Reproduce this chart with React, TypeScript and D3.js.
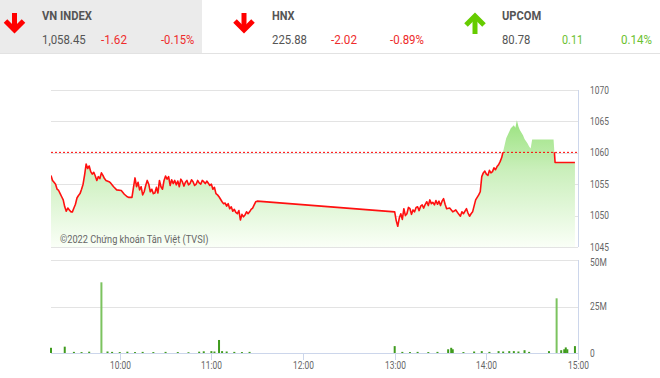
import React from "react";
import * as d3 from "d3";

// ---------- data ----------
const indexNames = ["VN INDEX", "HNX", "UPCOM"];
const indexValues = ["1,058.45", "225.88", "80.78"];
const indexChanges = ["-1.62", "-2.02", "0.11"];
const indexPercents = ["-0.15%", "-0.89%", "0.14%"];
const indexUp = [false, false, true];

const refPrice = 1060.07;

const priceTimes = [
  "9:15","9:16","9:17","9:18","9:19","9:20","9:21","9:22","9:23","9:24","9:25","9:26","9:27","9:28","9:29","9:30","9:31","9:32","9:33","9:34",
  "9:35","9:36","9:37","9:38","9:39","9:40","9:41","9:42","9:43","9:44","9:45","9:46","9:47","9:48","9:49","9:50","9:51","9:53","9:54","9:56","9:58",
  "10:01","10:03","10:05","10:06","10:08","10:09","10:10","10:11","10:12","10:13","10:14","10:15","10:16","10:17","10:18","10:19","10:20",
  "10:21","10:22","10:23","10:24","10:25","10:26","10:27","10:28","10:29","10:30","10:31","10:32","10:33","10:34","10:35","10:36","10:37",
  "10:38","10:39","10:40","10:41","10:42","10:43","10:44","10:45","10:46","10:47","10:48","10:49","10:50","10:51","10:52","10:53","10:54",
  "10:55","10:56","10:57","10:59","11:00","11:01","11:02","11:03","11:04","11:05","11:06","11:07","11:08","11:09","11:10","11:11","11:12",
  "11:13","11:14","11:15","11:16","11:17","11:18","11:19","11:20","11:21","11:22","11:23","11:24","11:25","11:26","11:27","11:28","11:29","11:30",
  "13:00","13:01","13:02","13:03","13:04","13:05","13:06","13:07","13:08","13:09","13:10","13:11","13:12","13:13","13:14","13:15","13:16","13:17","13:18","13:19",
  "13:20","13:21","13:22","13:23","13:24","13:25","13:26","13:27","13:28","13:29","13:30","13:31","13:32","13:33","13:34","13:36","13:38",
  "13:40","13:42","13:43","13:44","13:45","13:47","13:48","13:49","13:50","13:51","13:53","13:55","13:56","13:57","13:58","13:59",
  "14:00","14:01","14:02","14:03","14:04","14:05","14:06","14:07","14:08","14:09","14:10","14:11","14:13","14:16","14:18","14:19","14:20",
  "14:21","14:22","14:24","14:25","14:27","14:28","14:29","14:30","14:44","14:45","14:58"
];
const priceValues = [
  1056.4,1055.6,1055.3,1055.0,1054.2,1054.0,1053.5,1053.0,1052.5,1051.4,1050.7,1051.2,1050.9,1050.6,1050.6,1051.2,1051.8,1052.8,1053.2,1053.5,
  1054.2,1055.0,1056.5,1058.2,1057.5,1057.9,1057.0,1056.6,1056.9,1056.3,1055.6,1056.2,1055.9,1056.8,1056.4,1055.9,1055.6,1055.4,1055.2,1054.6,1054.1,
  1054.0,1053.4,1053.0,1052.9,1052.9,1054.5,1056.0,1054.6,1055.3,1054.1,1054.6,1053.3,1053.8,1054.8,1055.6,1055.0,1053.8,
  1054.2,1053.5,1053.6,1054.5,1053.6,1055.6,1054.6,1054.2,1055.6,1056.3,1055.8,1056.2,1054.8,1055.7,1055.1,1055.6,1054.9,
  1055.5,1054.6,1055.8,1055.4,1054.7,1055.3,1055.6,1054.9,1055.1,1055.7,1055.4,1054.8,1055.0,1055.6,1055.2,1055.0,1055.6,
  1055.4,1055.1,1055.5,1054.8,1055.0,1054.2,1054.5,1053.5,1053.3,1053.0,1052.6,1052.2,1051.9,1052.0,1051.5,1051.9,1051.1,
  1051.4,1050.7,1051.0,1050.5,1050.3,1050.8,1049.3,1050.2,1049.8,1050.1,1050.6,1050.3,1050.6,1051.0,1051.2,1051.7,1052.2,1052.3,
  1050.6,1049.2,1048.3,1049.6,1050.3,1049.4,1051.1,1050.0,1050.3,1051.3,1051.1,1050.2,1050.9,1050.6,1051.3,1051.4,1050.8,1051.5,1051.7,1051.2,
  1051.8,1052.2,1051.6,1052.5,1051.9,1052.1,1051.7,1052.4,1051.8,1052.3,1051.6,1052.3,1052.7,1051.8,1051.1,1051.2,1050.6,
  1050.9,1050.2,1049.9,1050.6,1050.3,1051.1,1050.4,1049.9,1050.3,1050.6,1052.5,1053.3,1053.8,1056.2,1056.8,1057.1,
  1056.6,1056.4,1057.2,1056.8,1057.0,1057.6,1057.3,1057.8,1058.1,1058.6,1059.2,1060.2,1062.3,1063.9,1064.4,1064.0,1065.2,
  1064.2,1063.6,1062.8,1062.2,1061.5,1061.0,1060.7,1062.1,1062.1,1058.45,1058.45
];

const volumeTimes = [
  "9:15","9:24","9:30","9:35","9:40","9:48","9:52","9:55","10:00","10:05","10:10","10:15","10:22","10:30","10:38","10:45","10:52","10:55",
  "11:00","11:02","11:05","11:07","11:10","11:15","11:20","11:25",
  "13:00","13:05","13:10","13:15","13:22","13:28","13:35","13:37","13:38","13:45","13:52","13:57","14:02","14:08","14:11","14:15","14:18",
  "14:21","14:25","14:28","14:41","14:46","14:49","14:51","14:52","14:53","14:58"
];
const volumeValues = [
  2.8,3.4,0.6,0.5,0.7,38,0.8,0.6,0.5,0.7,0.5,0.6,0.5,0.6,0.5,0.4,0.7,0.9,
  1.0,0.8,7.0,1.0,0.8,0.6,0.5,0.6,
  3.7,0.6,0.5,0.6,0.5,0.6,2.0,2.8,2.0,0.5,0.8,1.0,0.6,1.0,0.8,1.0,1.0,
  0.8,1.5,0.6,1.0,29.4,1.5,2.0,3.0,2.0,3.7
];

const priceTicks = [1045, 1050, 1055, 1060, 1065, 1070];
const volumeTicks = [0, 25, 50];
const volumeTickLabels = ["0", "25M", "50M"];
const hourTicks = ["10:00", "11:00", "12:00", "13:00", "14:00", "15:00"];
const watermark = "©2022 Chứng khoán Tân Việt (TVSI)";

// ---------- helpers ----------
const toMin = (s: string) => {
  const [h, m] = s.split(":").map(Number);
  return h * 60 + m;
};

const W = 660;
const H = 378;
const FONT = "Roboto, 'Noto Sans', sans-serif";
const SX = 0.84; // condensed look

const x = d3.scaleLinear().domain([toMin("9:15"), toMin("15:00")]).range([51, 578]);
const yP = d3.scaleLinear().domain([1045, 1070]).range([247, 90]);
const yV = d3.scaleLinear().domain([0, 50]).range([353, 260]);

const RED = "#ee2b2b";
const GREEN = "#6cc12f";

function CText(props: { x: number; y: number; size: number; fill: string; weight?: number; anchor?: string; children: string }) {
  const { x: tx, y: ty, size, fill, weight, anchor, children } = props;
  return (
    <text
      transform={`translate(${tx},${ty}) scale(${SX},1)`}
      fontSize={size}
      fill={fill}
      fontWeight={weight || 400}
      textAnchor={anchor || "start"}
      fontFamily={FONT}
    >
      {children}
    </text>
  );
}

function Arrow({ cx, up, color }: { cx: number; up: boolean; color: string }) {
  const top = 14;
  const bot = 32;
  if (!up) {
    return (
      <g stroke={color} strokeWidth={5} fill="none" strokeLinejoin="miter">
        <line x1={cx} y1={top - 1} x2={cx} y2={bot - 2} />
        <polyline points={`${cx - 9},${bot - 11} ${cx},${bot - 2} ${cx + 9},${bot - 11}`} />
      </g>
    );
  }
  return (
    <g stroke={color} strokeWidth={5} fill="none" strokeLinejoin="miter">
      <line x1={cx} y1={top + 2} x2={cx} y2={bot + 2} />
      <polyline points={`${cx - 9},${top + 11} ${cx},${top + 2} ${cx + 9},${top + 11}`} />
    </g>
  );
}

export default function App() {
  const pts = priceTimes.map((t, i) => ({ t: toMin(t), v: priceValues[i] }));
  const area = d3
    .area<{ t: number; v: number }>()
    .x((d) => x(d.t))
    .y0(yP(1045))
    .y1((d) => yP(d.v));
  const line = d3
    .line<{ t: number; v: number }>()
    .x((d) => x(d.t))
    .y((d) => yP(d.v));
  const refY = yP(refPrice);

  const headerX = [42, 272, 502];
  const changeX = [101, 331, 562];
  const pctX = [161, 390, 621];
  const arrowX = [14.5, 244, 475];
  const nameW = [50, 22.6, 39.3];
  const valW = [43.7, 35, 28.3];
  const chgW = [26, 26, 21];
  const pctW = [33.3, 34, 31];

  return (
    <svg
      width={W}
      height={H}
      style={{ position: "fixed", left: 0, top: 0, background: "#fff" }}
      fontFamily={FONT}
    >
      <defs>
        <linearGradient id="pfill" gradientUnits="userSpaceOnUse" x1={0} y1={118} x2={0} y2={247}>
          <stop offset="0" stopColor="#98e27c" />
          <stop offset="0.4" stopColor="#caefbb" />
          <stop offset="1" stopColor="#fafff7" />
        </linearGradient>
        <clipPath id="belowRef">
          <rect x={51} y={refY} width={527} height={247 - refY + 3} />
        </clipPath>
      </defs>

      {/* header */}
      <rect x={0} y={0} width={202} height={53} fill="#ebebeb" />
      <line x1={0} x2={W} y1={53.5} y2={53.5} stroke="#e2e2e2" />
      {indexNames.map((n, i) => {
        const c = indexUp[i] ? GREEN : RED;
        return (
          <g key={n}>
            <Arrow cx={arrowX[i]} up={indexUp[i]} color={indexUp[i] ? "#66cc00" : "#ff0000"} />
            <text x={headerX[i]} y={20} fontSize={13} fontWeight={700} fill="#555"
              textLength={nameW[i]} lengthAdjust="spacingAndGlyphs">{n}</text>
            <text x={headerX[i]} y={44} fontSize={13.5} fill="#555"
              textLength={valW[i]} lengthAdjust="spacingAndGlyphs">{indexValues[i]}</text>
            <text x={changeX[i]} y={44} fontSize={13.5} fill={c}
              textLength={chgW[i]} lengthAdjust="spacingAndGlyphs">{indexChanges[i]}</text>
            <text x={pctX[i]} y={44} fontSize={13.5} fill={c}
              textLength={pctW[i]} lengthAdjust="spacingAndGlyphs">{indexPercents[i]}</text>
          </g>
        );
      })}

      {/* price chart grid */}
      {priceTicks.map((t) => (
        <g key={t}>
          <line x1={51} x2={578} y1={Math.round(yP(t)) + 0.5} y2={Math.round(yP(t)) + 0.5} stroke="#e3e3e3" />
          <CText x={590} y={yP(t) + 3.5} size={10} fill="#666">{String(t)}</CText>
        </g>
      ))}
      <line x1={578.5} x2={578.5} y1={90} y2={247} stroke="#ccd6eb" />

      {/* price area + line */}
      <path d={area(pts) || ""} fill="url(#pfill)" />
      <CText x={60} y={242.5} size={11} fill="#666">{watermark}</CText>
      <path d={line(pts) || ""} fill="none" stroke="#ff1010" strokeWidth={1.6} strokeLinejoin="round" clipPath="url(#belowRef)" />
      <line x1={51} x2={578} y1={refY} y2={refY} stroke="#ff0000" strokeWidth={1} strokeDasharray="2,2" />

      {/* volume chart */}
      {volumeTicks.map((t, i) => (
        <g key={t}>
          <line x1={51} x2={578} y1={Math.round(yV(t)) + 0.5} y2={Math.round(yV(t)) + 0.5}
            stroke={t === 0 ? "#ccd6eb" : "#e3e3e3"} />
          <CText x={590} y={Math.max(yV(t), 262) + 3.5} size={10} fill="#666">{volumeTickLabels[i]}</CText>
        </g>
      ))}
      <line x1={578.5} x2={578.5} y1={260} y2={353} stroke="#ccd6eb" />
      {volumeTimes.map((t, i) => {
        const v = volumeValues[i];
        const bx = x(toMin(t));
        return (
          <rect key={t} x={bx - 1} y={yV(v)} width={2} height={yV(0) - yV(v)}
            fill={v >= 10 ? "#7cc35f" : "#3f9b1e"} />
        );
      })}
      {hourTicks.map((h) => {
        const hx = Math.round(x(toMin(h))) + 0.5;
        return (
          <g key={h}>
            <line x1={hx} x2={hx} y1={353} y2={360} stroke="#ccd6eb" />
            <CText x={hx} y={369} size={10} fill="#666" anchor="middle">{h}</CText>
          </g>
        );
      })}
    </svg>
  );
}
